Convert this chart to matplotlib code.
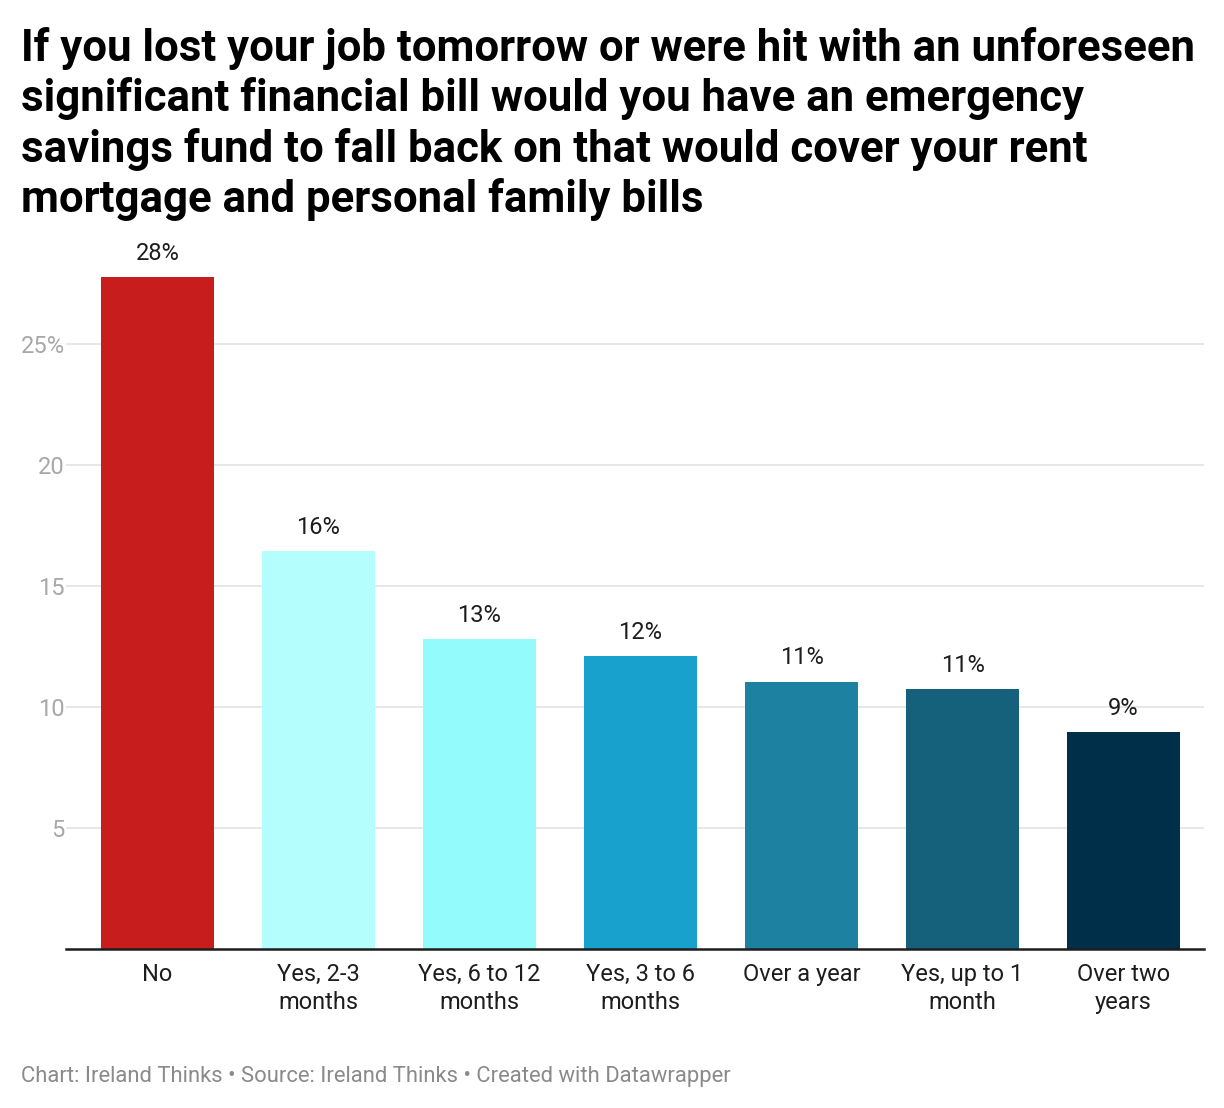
import matplotlib
matplotlib.use("Agg")
from matplotlib import pyplot as plt

# data
categories = ["No", "Yes, 2-3\nmonths", "Yes, 6 to 12\nmonths", "Yes, 3 to 6\nmonths",
              "Over a year", "Yes, up to 1\nmonth", "Over two\nyears"]
values = [27.75, 16.45, 12.8, 12.1, 11.05, 10.75, 8.95]
value_labels = ["28%", "16%", "13%", "12%", "11%", "11%", "9%"]
colors = ["#c71e1d", "#b5fefe", "#94fbfd", "#18a1cd", "#1d81a2", "#15607a", "#003049"]
yticks = [5, 10, 15, 20, 25]
ytick_labels = ["5", "10", "15", "20", "25%"]

plt.rcParams['font.family'] = ['Roboto', 'DejaVu Sans']

fig = plt.figure(figsize=(12.24, 11.08), dpi=100)
ax = fig.add_axes([0.0539, 0.1435, 0.9298, 0.6116])

x = range(len(categories))
ax.bar(x, values, width=0.70, color=colors, zorder=2)

for i, (v, lab) in enumerate(zip(values, value_labels)):
    ax.text(i, v + 0.5, lab, ha="center", va="bottom", fontsize=17, color="#1d1d1d")

ax.set_xlim(-0.568, 6.5)
ax.set_ylim(0, 28)
ax.set_yticks(yticks)
ax.set_yticklabels(ytick_labels, fontsize=17, color="#a8a8a8")
ax.set_xticks(list(x))
ax.set_xticklabels(categories, fontsize=17, color="#1d1d1d", linespacing=1.28)
ax.tick_params(axis="y", length=0, pad=1)
ax.tick_params(axis="x", length=0, pad=10)
for lbl in ax.get_xticklabels():
    lbl.set_verticalalignment("top")

ax.grid(axis="y", color="#e3e3e3", linewidth=1.2, zorder=0)
for s in ["top", "right", "left"]:
    ax.spines[s].set_visible(False)
ax.spines["bottom"].set_color("#1d1d1d")
ax.spines["bottom"].set_linewidth(1.8)
ax.spines["bottom"].set_zorder(3)

title = ("If you lost your job tomorrow or were hit with an unforeseen\n"
         "significant financial bill would you have an emergency\n"
         "savings fund to fall back on that would cover your rent\n"
         "mortgage and personal family bills")
fig.text(0.0172, 0.976, title, ha="left", va="top", fontsize=31.5, fontweight="bold",
         color="#000000", linespacing=1.22)

fig.text(0.0172, 0.019, "Chart: Ireland Thinks \u2022 Source: Ireland Thinks \u2022 Created with Datawrapper",
         ha="left", va="bottom", fontsize=15.8, color="#8a8a8a")

fig.savefig("out.png", dpi=100)
